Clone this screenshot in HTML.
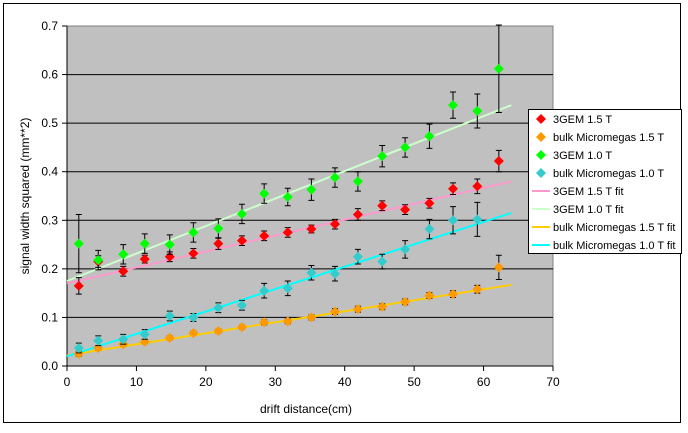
<!DOCTYPE html>
<html><head><meta charset="utf-8"><style>
body{margin:0;background:#fff;}
svg text{font-family:"Liberation Sans",sans-serif;font-size:12px;}
</style></head><body>
<svg id="c" width="688" height="428" xmlns="http://www.w3.org/2000/svg">
<rect x="3.5" y="3.5" width="677" height="419" fill="#fff" stroke="#000"/>
<rect x="67" y="26" width="486" height="340" fill="#c0c0c0" stroke="#808080"/>
<g id="grid"></g><g id="axes"></g><g id="series"></g>
<text x="306" y="413" text-anchor="middle">drift distance(cm)</text>
<text transform="translate(29,196) rotate(-90)" text-anchor="middle">signal width squared (mm**2)</text>
<g id="legend"></g>
</svg>
<script>
const xs=[1.7,4.5,8.1,11.2,14.8,18.2,21.8,25.2,28.4,31.8,35.2,38.6,41.9,45.4,48.7,52.2,55.6,59.1,62.2];
const red=[0.165,0.215,0.195,0.22,0.225,0.232,0.252,0.258,0.268,0.275,0.282,0.292,0.312,0.33,0.322,0.335,0.365,0.37,0.422];
const redErr=[0.017,0.012,0.01,0.008,0.01,0.01,0.012,0.01,0.01,0.01,0.008,0.01,0.012,0.01,0.01,0.01,0.012,0.015,0.022];
const green=[0.252,0.218,0.23,0.252,0.25,0.275,0.283,0.313,0.355,0.348,0.363,0.388,0.38,0.432,0.45,0.473,0.537,0.525,0.612];
const greenErr=[0.06,0.02,0.02,0.02,0.02,0.02,0.02,0.02,0.02,0.018,0.022,0.02,0.02,0.022,0.02,0.025,0.027,0.035,0.09];
const cyan=[0.037,0.052,0.055,0.065,0.103,0.1,0.12,0.125,0.155,0.16,0.192,0.19,0.225,0.215,0.24,0.282,0.3,0.302];
const cyanErr=[0.01,0.01,0.01,0.01,0.01,0.008,0.01,0.01,0.015,0.015,0.015,0.015,0.015,0.015,0.018,0.02,0.028,0.035];
const orange=[0.025,0.037,0.045,0.05,0.058,0.068,0.072,0.08,0.09,0.092,0.1,0.112,0.117,0.122,0.132,0.145,0.148,0.158,0.203];
const orangeErr=[0.005,0.004,0.004,0.004,0.004,0.004,0.004,0.004,0.005,0.005,0.005,0.006,0.006,0.006,0.006,0.006,0.007,0.008,0.025];
const fitX=[0,64];
const redFit=[0.17,0.38], greenFit=[0.175,0.537], orangeFit=[0.022,0.167], cyanFit=[0.02,0.315];
const xTicks=[0,10,20,30,40,50,60,70];
const yTicks=[0,0.1,0.2,0.3,0.4,0.5,0.6,0.7];
const legendLabels=["3GEM 1.5 T","bulk Micromegas 1.5 T","3GEM 1.0 T","bulk Micromegas 1.0 T","3GEM 1.5 T fit","3GEM 1.0 T fit","bulk Micromegas 1.5 T fit","bulk Micromegas 1.0 T fit"];
const NS="http://www.w3.org/2000/svg";
const X=v=>67+v*(486/70), Y=v=>366-v*(340/0.7);
function mk(t,a,p){const e=document.createElementNS(NS,t);for(const k in a)e.setAttribute(k,a[k]);p.appendChild(e);return e;}
const g=document.getElementById('grid'),ax=document.getElementById('axes'),s=document.getElementById('series'),lg=document.getElementById('legend');
yTicks.forEach(v=>{
 if(v>0&&v<0.7){const l=mk('line',{x1:67,x2:553,y1:Y(v),y2:Y(v),stroke:'#000'},g);
 }
 const t=mk('line',{x1:62,x2:67,y1:Y(v),y2:Y(v),stroke:'#000'},ax);
 const tx=mk('text',{x:58,y:Y(v)+4,'text-anchor':'end'},ax);tx.textContent=v.toFixed(1);
 
});
xTicks.forEach(v=>{
 mk('line',{x1:X(v),x2:X(v),y1:366,y2:371,stroke:'#000'},ax);
 const tx=mk('text',{x:X(v),y:386,'text-anchor':'middle'},ax);tx.textContent=v;
 
});
mk('line',{x1:67,x2:67,y1:26,y2:366,stroke:'#000'},ax);
mk('line',{x1:67,x2:553,y1:366,y2:366,stroke:'#000'},ax);
function fit(ys,col,name){const l=mk('line',{x1:X(fitX[0]),y1:Y(ys[0]),x2:X(fitX[1]),y2:Y(ys[1]),stroke:col,'stroke-width':2},s);
 }
function pts(ys,er,col,name){ys.forEach((v,i)=>{const x=X(xs[i]);
 mk('path',{d:`M${x},${Y(v-er[i])}V${Y(v+er[i])}M${x-3},${Y(v-er[i])}h6M${x-3},${Y(v+er[i])}h6`,stroke:'#000',fill:'none'},s);
 const p=mk('path',{d:`M${x},${Y(v)-5}l5,5l-5,5l-5,-5z`,fill:col},s);
 });}
fit(redFit,'#ff99cc','fit-3gem-1-5t');fit(greenFit,'#ccffcc','fit-3gem-1-0t');
fit(orangeFit,'#ffcc00','fit-micromegas-1-5t');fit(cyanFit,'#00ffff','fit-micromegas-1-0t');
pts(red,redErr,'#ff0000','point-3gem-1-5t');pts(orange,orangeErr,'#ff9900','point-micromegas-1-5t');
pts(green,greenErr,'#00ff00','point-3gem-1-0t');pts(cyan,cyanErr,'#33cccc','point-micromegas-1-0t');
mk('rect',{x:528.5,y:109.5,width:153,height:144,fill:'#fff',stroke:'#000'},lg);
const lc=['#ff0000','#ff9900','#00ff00','#33cccc','#ff99cc','#ccffcc','#ffcc00','#00ffff'];
legendLabels.forEach((t,i)=>{const y=119+i*18;
 if(i<4)mk('path',{d:`M541,${y-5}l5,5l-5,5l-5,-5z`,fill:lc[i]},lg);
 else mk('line',{x1:532,x2:550,y1:y,y2:y,stroke:lc[i],'stroke-width':2},lg);
 const tx=mk('text',{x:553,y:y+4,style:'font-size:11px'},lg);tx.textContent=t;
 });
</script>
</body></html>
